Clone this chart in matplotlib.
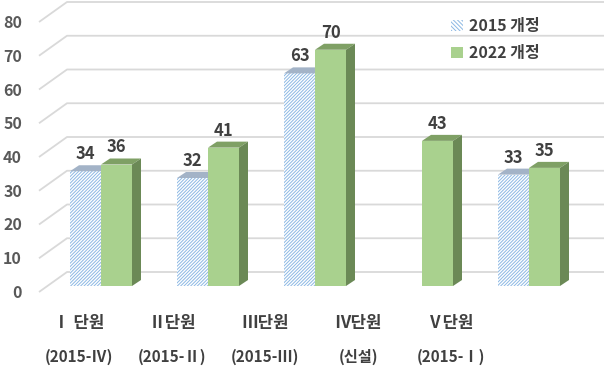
import matplotlib.pyplot as plt
from matplotlib.patches import Polygon, Patch

plt.rcParams['font.family'] = ['Noto Sans CJK KR', 'DejaVu Sans']
plt.rcParams['font.weight'] = 'bold'
plt.rcParams['hatch.linewidth'] = 0.7

# data
units = ['Ⅰ 단원', 'Ⅱ단원', 'Ⅲ단원', 'Ⅳ단원', 'Ⅴ단원']
sources = ['(2015-Ⅳ)', '(2015-Ⅱ)', '(2015-Ⅲ)', '(신설)', '(2015-Ⅰ)']
rev2015 = [34, 32, 63, None, 33]
rev2022 = [36, 41, 70, 43, 35]
yticks = [0, 10, 20, 30, 40, 50, 60, 70, 80]
series_names = ['2015 개정', '2022 개정']

# layout (pixels)
W, H = 604, 370
PX_Y = 3.375       # px per value unit
PX_X = 107         # px per category
BASE = 286         # bar base, px from top
X0 = 101           # first category center, px

fig = plt.figure(figsize=(W / 100, H / 100), dpi=100)
ax = fig.add_axes([0, 0, 1, 1])
ax.set_xlim(-X0 / PX_X, (W - X0) / PX_X)
ax.set_ylim(-(H - BASE) / PX_Y, BASE / PX_Y)
ax.axis('off')


def dx(p):
    return p / PX_X


def dy(p):
    return p / PX_Y


grid_c = '#d9d9d9'
x_front = dx(39 - X0)
x_back = dx(67 - X0)
x_end = dx(W - X0)
for v in yticks:
    ax.plot([x_front, x_back, x_end], [v - dy(6), v + dy(14), v + dy(14)],
            color=grid_c, lw=1.3, zorder=1, solid_capstyle='butt')
    ax.text(dx(22 - X0), v - dy(7), str(v), ha='right', va='center',
            fontsize=11.5, color='#595959')

w = dx(31)
ddx, ddy = dx(9), dy(6)
hatch_c = '#8cb8e4'
hatch_top = '#a3b3c7'
green_front = '#a9d18e'
green_top = '#7fa065'
green_side = '#6b8956'
lab_c = '#404040'

for i, (a, b) in enumerate(zip(rev2015, rev2022)):
    if a is not None:
        xl = i - w
        ax.bar(xl, a, width=w, align='edge', color='white', edgecolor=hatch_c,
               hatch='/' * 10, linewidth=0, zorder=2)
        ax.add_patch(Polygon([(xl, a), (xl + ddx, a + ddy), (xl + w + ddx, a + ddy), (xl + w, a)],
                             closed=True, color=hatch_top, lw=0, zorder=2))
        ax.text(xl + w / 2, a + dy(17), str(a), ha='center', va='center',
                fontsize=12, color=lab_c)
    xl = i
    ax.bar(xl, b, width=w, align='edge', color=green_front, linewidth=0, zorder=3)
    ax.add_patch(Polygon([(xl, b), (xl + ddx, b + ddy), (xl + w + ddx, b + ddy), (xl + w, b)],
                         closed=True, color=green_top, lw=0, zorder=3))
    ax.add_patch(Polygon([(xl + w, 0), (xl + w + ddx, ddy), (xl + w + ddx, b + ddy), (xl + w, b)],
                         closed=True, color=green_side, lw=0, zorder=3))
    ax.text(xl + w / 2, b + dy(17), str(b), ha='center', va='center',
            fontsize=12, color=lab_c)

# category labels sit on the front plane
for i, (u, s) in enumerate(zip(units, sources)):
    xc = dx(79 + 93 * i - X0)
    ax.text(xc, dy(BASE - 323), u, ha='center', va='center', fontsize=12, color=lab_c)
    ax.text(xc, dy(BASE - 357), s, ha='center', va='center', fontsize=11, color=lab_c)

handles = [Patch(facecolor='white', edgecolor=hatch_c, hatch='\\' * 8, lw=0),
           Patch(facecolor=green_front, lw=0)]
ax.legend(handles, series_names, loc='upper left', bbox_to_anchor=(443 / W, 1 - 10 / H),
          frameon=False, handlelength=0.75, handleheight=0.75,
          handletextpad=0.4, labelspacing=0.7, borderpad=0,
          labelcolor=lab_c, prop={'weight': 'bold', 'size': 11.5})

fig.savefig('out.png', dpi=100)
